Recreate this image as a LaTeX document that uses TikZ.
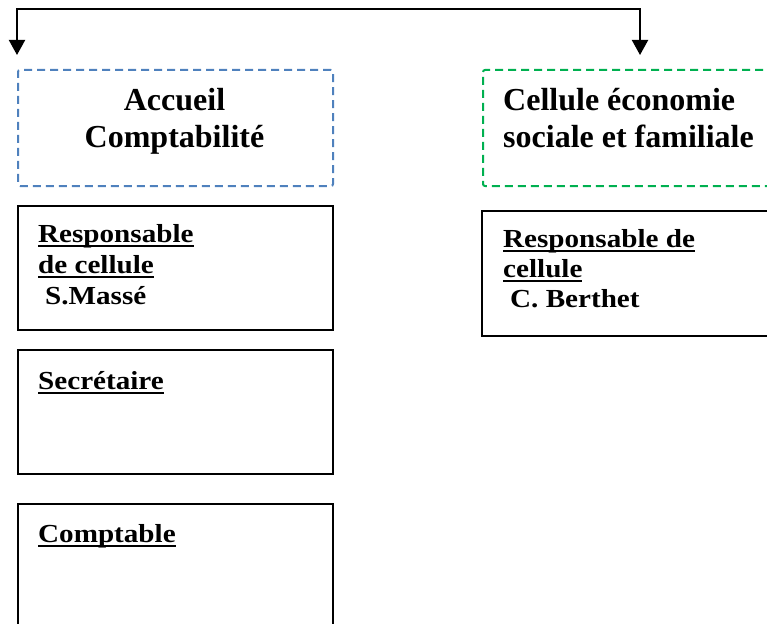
\documentclass[tikz,border=0pt]{standalone}
\usepackage{fontspec}
\setmainfont{Liberation Serif}
\newfontfamily\bodyfont[FakeStretch=1.12]{Liberation Serif}
\usetikzlibrary{arrows.meta}
\definecolor{cblue}{HTML}{4F81BD}
\definecolor{cgreen}{HTML}{00B050}
\newcommand\myul[1]{\setbox0\hbox{#1}\rlap{\rule[-5pt]{\wd0}{2pt}}\box0}
\begin{document}
\begin{tikzpicture}[x=1pt,y=-1pt,
  plainbox/.style={draw=black,line width=1.5pt,inner sep=0pt,anchor=north west},
  dashbox/.style={line width=2pt,dash pattern=on 8pt off 5pt,rounded corners=2pt,inner sep=0pt,anchor=north west},
  headtxt/.style={inner sep=0pt,font={\fontsize{32}{37}\selectfont\bfseries}},
  bodytxt/.style={inner sep=0pt,anchor=base west,align=left,font={\fontsize{26}{31}\bodyfont\bfseries}},
  conn/.style={line width=2pt,{Triangle[length=15pt,width=16pt]}-{Triangle[length=15pt,width=16pt]}}]
\useasboundingbox (0,0) rectangle (767,623);
\clip (0,0) rectangle (767,623);
% header boxes
\node[dashbox,draw=cblue,minimum width=315pt,minimum height=116pt] (acc) at (17,69) {};
\node[dashbox,draw=cgreen,minimum width=308pt,minimum height=116pt] (ces) at (482,69) {};
\node[headtxt,anchor=base,align=center] (acct) at (174.5,147) {Accueil\\Comptabilité};
\node[headtxt,anchor=base west,align=left] (cest) at (503,147) {Cellule économie\\sociale et familiale};
% left column
\node[plainbox,minimum width=315pt,minimum height=124pt] (resp) at (17,205) {};
\node[plainbox,minimum width=315pt,minimum height=124pt] (sec) at (17,349) {};
\node[plainbox,minimum width=315pt,minimum height=140pt] (comp) at (17,503) {};
\node[bodytxt] (respt) at (38,304) {\myul{Responsable}\\\myul{de cellule}\\\hspace*{7pt}S.Massé};
\node[bodytxt] (sect) at (38,389) {\myul{Secrétaire}};
\node[bodytxt] (compt) at (38,542) {\myul{Comptable}};
% right column
\node[plainbox,minimum width=309pt,minimum height=125pt] (resp2) at (481,210) {};
\node[bodytxt,font={\fontsize{26}{30}\bodyfont\bfseries}] (resp2t) at (503,307) {\myul{Responsable de}\\\myul{cellule}\\\hspace*{7pt}C. Berthet};
% connector
\coordinate (top) at (640,9);
\coordinate (al) at ([yshift=14pt]acc.north west);
\coordinate (ar) at (640,55);
\draw[conn] (al) |- (top) -- (ar);
\end{tikzpicture}
\end{document}
